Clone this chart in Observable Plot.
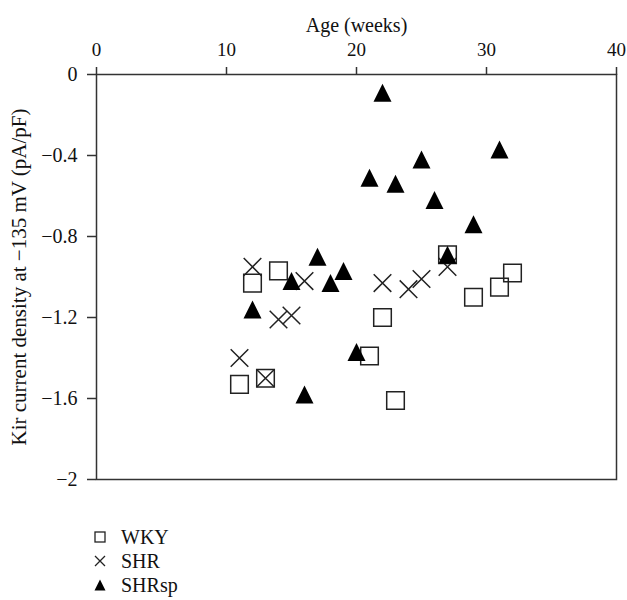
<!DOCTYPE html>
<html>
<head>
<meta charset="utf-8">
<script src="https://cdn.jsdelivr.net/npm/d3@7"></script>
<script src="https://cdn.jsdelivr.net/npm/@observablehq/plot@0.6"></script>
<style>
  html, body { margin: 0; padding: 0; background: #fff; }
  #wrap { position: relative; width: 627px; height: 600px; font-family: "Liberation Serif", serif; }
  #legend { position: absolute; left: 92px; top: 525px; font-size: 20px; color: #111; }
  .row { display: flex; align-items: center; height: 24px; }
  .row svg { width: 16px; height: 16px; margin-right: 13px; }
</style>
</head>
<body>
<div id="wrap">
  <div id="chart"></div>
  <div id="legend"></div>
</div>
<script>
// Data
const wkyAge = [11, 12, 13, 14, 21, 22, 23, 27, 29, 31, 32];
const wkyKir = [-1.53, -1.03, -1.50, -0.97, -1.39, -1.20, -1.61, -0.89, -1.10, -1.05, -0.98];

const shrAge = [11, 12, 13, 14, 15, 16, 22, 24, 25, 27];
const shrKir = [-1.40, -0.95, -1.50, -1.21, -1.19, -1.02, -1.03, -1.06, -1.01, -0.95];

const shrspAge = [12, 15, 16, 17, 18, 19, 20, 21, 22, 23, 25, 26, 27, 29, 31];
const shrspKir = [-1.16, -1.02, -1.58, -0.90, -1.03, -0.97, -1.37, -0.51, -0.09, -0.54, -0.42, -0.62, -0.89, -0.74, -0.37];

const xTicks = [0, 10, 20, 30, 40];
const yTicks = [0, -0.4, -0.8, -1.2, -1.6, -2];
const seriesNames = ["WKY", "SHR", "SHRsp"];

const rows = (ages, vals) => ages.map((a, i) => ({age: a, kir: vals[i]}));
const wky = rows(wkyAge, wkyKir);
const shr = rows(shrAge, shrKir);
const shrsp = rows(shrspAge, shrspKir);

// custom symbols (bbox-centred)
const rad = s => Math.sqrt(s / Math.PI);
const squareSym = {draw(ctx, s) { const r = rad(s); ctx.rect(-r, -r, 2 * r, 2 * r); }};
const timesSym = {draw(ctx, s) { const r = rad(s); ctx.moveTo(-r, -r); ctx.lineTo(r, r); ctx.moveTo(r, -r); ctx.lineTo(-r, r); }};
const triSym = {draw(ctx, s) { const r = rad(s); ctx.moveTo(0, -r); ctx.lineTo(r, r); ctx.lineTo(-r, r); ctx.closePath(); }};

const axisColor = "#333";
const fmt = d3.format("~g");

const chart = Plot.plot({
  width: 627,
  height: 500,
  marginTop: 74,
  marginLeft: 96,
  marginRight: 11,
  marginBottom: 21,
  style: {fontFamily: "Liberation Serif, serif", fontSize: "19px", color: "#111", background: "#fff"},
  x: {domain: [0, 40]},
  y: {domain: [-2, 0]},
  marks: [
    Plot.frame({stroke: axisColor, strokeWidth: 1.5}),
    Plot.axisX({anchor: "top", ticks: xTicks, tickSize: 8, tickPadding: 11, stroke: axisColor, strokeWidth: 1.5, fontSize: 19, label: null}),
    Plot.axisY({anchor: "left", ticks: yTicks, tickFormat: fmt, tickSize: 9, tickPadding: 10, stroke: axisColor, strokeWidth: 1.5, fontSize: 20, label: null}),
    Plot.text(["Age (weeks)"], {frameAnchor: "top", textAnchor: "middle", dy: -57, fontSize: 20, fill: "#111"}),
    Plot.text(["Kir current density at \u2212135 mV (pA/pF)"], {frameAnchor: "left", textAnchor: "middle", dx: -77, rotate: -90, fontSize: 21, fill: "#111"}),
    Plot.dot(wky, {x: "age", y: "kir", symbol: squareSym, r: 8.8, stroke: "#222", strokeWidth: 1.5, fill: "none"}),
    Plot.dot(shr, {x: "age", y: "kir", symbol: timesSym, r: 8.8, stroke: "#222", strokeWidth: 1.5, fill: "none"}),
    Plot.dot(shrsp, {x: "age", y: "kir", symbol: triSym, r: 9, fill: "#000", stroke: "none"})
  ]
});
document.getElementById("chart").appendChild(chart);

// legend
const icons = [
  '<rect x="3" y="3" width="10" height="10" fill="none" stroke="#222" stroke-width="1.3"/>',
  '<path d="M3,3L13,13M13,3L3,13" stroke="#222" stroke-width="1.3"/>',
  '<path d="M8,2.5L13.5,13.5L2.5,13.5Z" fill="#000"/>'
];
const legend = document.getElementById("legend");
seriesNames.forEach((name, i) => {
  const row = document.createElement("div");
  row.className = "row";
  row.innerHTML = `<svg viewBox="0 0 16 16">${icons[i]}</svg><span>${name}</span>`;
  legend.appendChild(row);
});
</script>
</body>
</html>
